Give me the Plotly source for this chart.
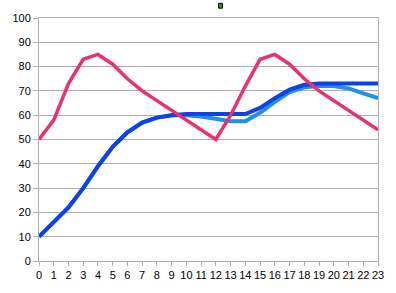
import plotly.graph_objects as go

hours = list(range(24))
red_series = [50, 58, 73, 83, 85, 81, 75, 70, 66, 62, 58, 54, 50, 60, 72, 83, 85, 81, 75, 70, 66, 62, 58, 54]
light_blue = [10, 16, 22, 30, 39, 47, 53, 57, 59, 60, 60, 59.5, 58.5, 57.5, 57.5, 61, 65.5, 69.5, 71.5, 72, 72, 71, 69, 67]
dark_blue = [10, 16, 22, 30, 39, 47, 53, 57, 59, 60, 60.5, 60.5, 60.5, 60.5, 60.5, 63, 67, 70.5, 72.5, 73, 73, 73, 73, 73]

fig = go.Figure()
fig.add_trace(go.Scatter(x=hours, y=light_blue, mode="lines",
                         line=dict(color="#1E90E8", width=4), showlegend=False))
fig.add_trace(go.Scatter(x=hours, y=dark_blue, mode="lines",
                         line=dict(color="#1040E8", width=4), showlegend=False))
fig.add_trace(go.Scatter(x=hours, y=red_series, mode="lines",
                         line=dict(color="#E8336A", width=3.5), showlegend=False))

fig.add_shape(type="rect", xref="paper", yref="paper",
              x0=(214 - 27) / 353, x1=(218 - 27) / 353, y0=(261 - 3) / 248, y1=(261 + 2) / 248,
              fillcolor="#20a020", line=dict(color="#000000", width=1))

fig.update_layout(
    width=396, height=293,
    margin=dict(l=27, r=16, t=13, b=32),
    paper_bgcolor="white", plot_bgcolor="white",
    font=dict(family="Liberation Sans, Arial, sans-serif", size=11, color="#000000"),
)
fig.update_xaxes(range=[0, 23], tickmode="linear", tick0=0, dtick=1,
                 showgrid=False, zeroline=False,
                 showline=True, linecolor="#b0b0b0", linewidth=1, mirror=True,
                 ticks="outside", ticklen=4, tickcolor="#b0b0b0")
fig.update_yaxes(range=[0, 100], tickmode="linear", tick0=0, dtick=10,
                 showgrid=True, gridcolor="#b0b0b0", gridwidth=1, zeroline=False,
                 showline=True, linecolor="#b0b0b0", linewidth=1, mirror=True,
                 ticks="outside", ticklen=5, tickcolor="#b0b0b0")

fig.write_html("out.html")
